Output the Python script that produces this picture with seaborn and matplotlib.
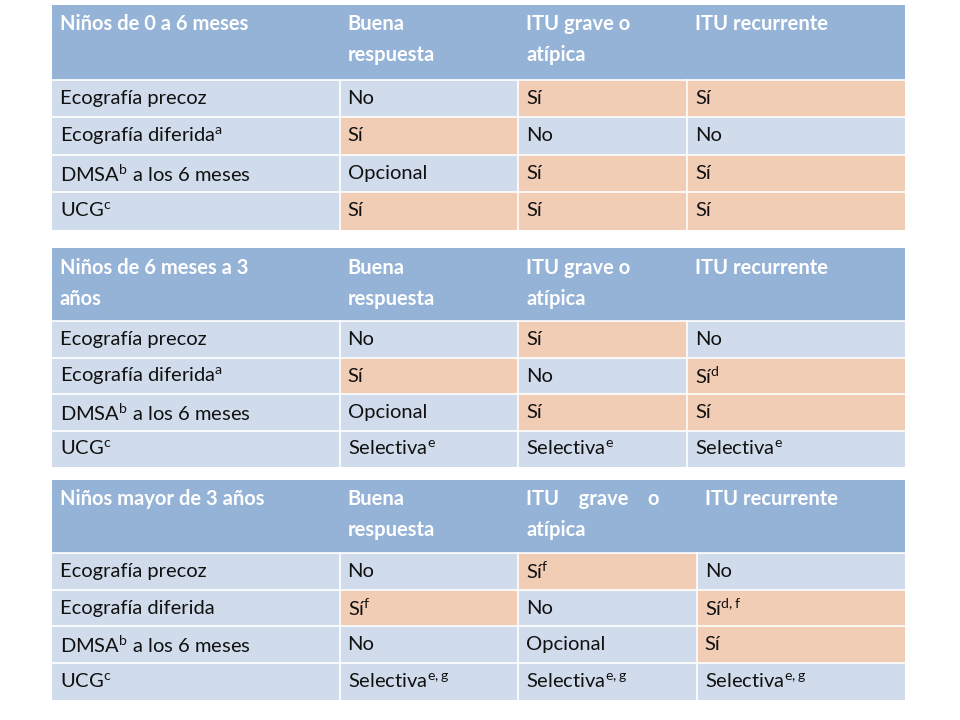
import numpy as np
import matplotlib
matplotlib.use("Agg")
import matplotlib.pyplot as plt
from matplotlib.colors import ListedColormap
import seaborn as sns

row_labels = ["Ecografía precoz", "Ecografía diferida$^{\\mathregular{a}}$",
              "DMSA$^{\\mathregular{b}}$ a los 6 meses", "UCG$^{\\mathregular{c}}$"]
row_labels3 = ["Ecografía precoz", "Ecografía diferida",
               "DMSA$^{\\mathregular{b}}$ a los 6 meses", "UCG$^{\\mathregular{c}}$"]
titles = ["Niños de 0 a 6 meses", "Niños de 6 meses a 3\naños", "Niños mayor de 3 años"]
col_heads = ["Buena\nrespuesta", "ITU grave o\natípica", "ITU recurrente"]
col_heads3 = ["Buena\nrespuesta", "ITU    grave    o\natípica", "ITU recurrente"]
sup = lambda s: "$^{\\mathregular{" + s + "}}$"
vals1 = [["No", "Sí", "Sí"], ["Sí", "No", "No"], ["Opcional", "Sí", "Sí"], ["Sí", "Sí", "Sí"]]
vals2 = [["No", "Sí", "No"], ["Sí", "No", "Sí" + sup("d")], ["Opcional", "Sí", "Sí"],
         ["Selectiva" + sup("e")] * 3]
vals3 = [["No", "Sí" + sup("f"), "No"], ["Sí" + sup("f"), "No", "Sí" + sup("d,f")],
         ["No", "Opcional", "Sí"], ["Selectiva" + sup("e,g")] * 3]
widths12 = [29, 18, 17, 22]
widths3 = [29, 18, 18, 21]

HEAD, LIGHT, PEACH = "#95B3D7", "#D0DCEB", "#F2CDB6"
cmap = ListedColormap([HEAD, LIGHT, PEACH])
font = "Lato"

fig = plt.figure(figsize=(9.6, 7.2), dpi=100)
boxes = [(0.054, 0.681, 0.889, 0.3125), (0.054, 0.351, 0.889, 0.304), (0.054, 0.028, 0.889, 0.306)]
tables = [(titles[0], col_heads, row_labels, vals1, widths12),
          (titles[1], col_heads, row_labels, vals2, widths12),
          (titles[2], col_heads3, row_labels3, vals3, widths3)]

for box, (title, heads, labels, vals, widths) in zip(boxes, tables):
    ax = fig.add_axes(box)
    edges = np.concatenate([[0], np.cumsum(widths)])
    ncol = edges[-1]
    rows = [[0] * ncol] * 2
    for r in range(4):
        line = []
        for c in range(4):
            code = 1 if c == 0 else (2 if vals[r][c - 1].startswith("Sí") else 1)
            line += [code] * widths[c]
        rows.append(line)
    mat = np.array(rows)
    sns.heatmap(mat, ax=ax, cmap=cmap, vmin=-0.5, vmax=2.5, cbar=False,
                xticklabels=False, yticklabels=False, linewidths=0)
    for y in [2, 3, 4, 5]:
        ax.axhline(y, color="white", lw=1.2)
    for x in edges[1:-1]:
        ax.axvline(x, ymin=0, ymax=4 / 6, color="white", lw=1.2)
    ax.text(edges[0] + 0.8, 0.25, title, va="top", ha="left", fontsize=14.5,
            fontweight="bold", color="white", family=font, linespacing=1.7)
    for c, h in enumerate(heads):
        ax.text(edges[c + 1] + 0.8, 0.25, h, va="top", ha="left", fontsize=14.5,
                fontweight="bold", color="white", family=font, linespacing=1.7)
    for r in range(4):
        y = 2.5 + r
        ax.text(edges[0] + 0.8, y, labels[r], va="center", ha="left", fontsize=14.5,
                color="#111111", family=font)
        for c in range(3):
            ax.text(edges[c + 1] + 0.8, y, vals[r][c], va="center", ha="left",
                    fontsize=14.5, color="#111111", family=font)
    for s in ax.spines.values():
        s.set_visible(False)

fig.savefig("out.png", dpi=100, facecolor="white")
